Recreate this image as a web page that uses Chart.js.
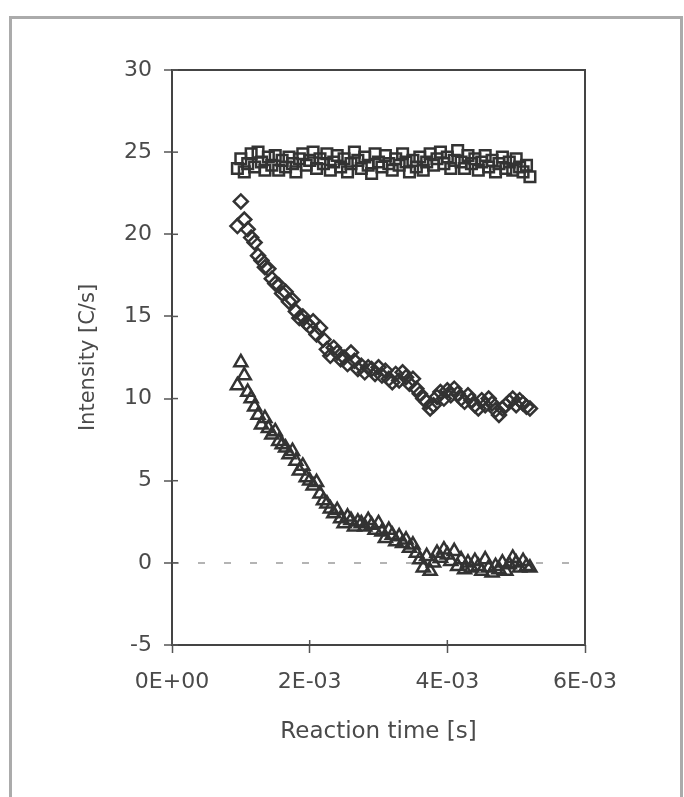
<!DOCTYPE html>
<html><head><meta charset="utf-8">
<script src="https://cdn.jsdelivr.net/npm/chart.js@4.4.0/dist/chart.umd.min.js"></script>
<style>
html,body{margin:0;padding:0;background:#fff;}
#wrap{position:relative;width:684px;height:797px;overflow:hidden;background:#fff;}
#frame{position:absolute;left:9px;top:16px;width:668px;height:820px;border:3px solid #ababab;border-bottom:none;pointer-events:none;}
canvas{position:absolute;left:0;top:0;}
</style></head><body>
<div id="wrap"><canvas id="c" width="684" height="797"></canvas><div id="frame"></div></div>
<script>
// Reaction time [s]
const timeS = [
  0.95e-3,1.00e-3,1.05e-3,1.10e-3,1.15e-3,1.20e-3,1.25e-3,1.30e-3,1.35e-3,1.40e-3,
  1.45e-3,1.50e-3,1.55e-3,1.60e-3,1.65e-3,1.70e-3,1.75e-3,1.80e-3,1.85e-3,1.90e-3,
  1.95e-3,2.00e-3,2.05e-3,2.10e-3,2.15e-3,2.20e-3,2.25e-3,2.30e-3,2.35e-3,2.40e-3,
  2.45e-3,2.50e-3,2.55e-3,2.60e-3,2.65e-3,2.70e-3,2.75e-3,2.80e-3,2.85e-3,2.90e-3,
  2.95e-3,3.00e-3,3.05e-3,3.10e-3,3.15e-3,3.20e-3,3.25e-3,3.30e-3,3.35e-3,3.40e-3,
  3.45e-3,3.50e-3,3.55e-3,3.60e-3,3.65e-3,3.70e-3,3.75e-3,3.80e-3,3.85e-3,3.90e-3,
  3.95e-3,4.00e-3,4.05e-3,4.10e-3,4.15e-3,4.20e-3,4.25e-3,4.30e-3,4.35e-3,4.40e-3,
  4.45e-3,4.50e-3,4.55e-3,4.60e-3,4.65e-3,4.70e-3,4.75e-3,4.80e-3,4.85e-3,4.90e-3,
  4.95e-3,5.00e-3,5.05e-3,5.10e-3,5.15e-3,5.20e-3
];
// Intensity [C/s] — squares (flat)
const squareSeries = [
  24.0,24.6,23.8,24.3,24.9,24.1,25.0,24.4,23.9,24.7,
  24.2,24.8,23.9,24.5,24.1,24.7,24.3,23.8,24.6,24.9,
  24.2,24.5,25.0,24.0,24.6,24.3,24.9,23.9,24.4,24.8,
  24.1,24.6,23.8,24.3,25.0,24.5,24.0,24.7,24.2,23.7,
  24.9,24.4,24.1,24.8,24.3,23.9,24.6,24.2,24.9,24.4,
  23.8,24.5,24.1,24.7,23.9,24.4,24.9,24.2,24.6,25.0,
  24.3,24.7,24.0,24.5,25.1,24.4,24.0,24.8,24.3,24.6,
  23.9,24.4,24.8,24.1,24.5,23.8,24.3,24.7,24.0,24.4,
  23.9,24.6,24.1,23.8,24.2,23.5
];
// Intensity [C/s] — diamonds (decay to ~9.5)
const diamondSeries = [
  20.5,22.0,20.9,20.3,19.8,19.5,18.7,18.4,18.0,17.9,
  17.3,17.0,16.9,16.4,16.5,15.9,16.0,15.3,14.9,15.0,
  14.6,14.4,14.7,13.9,14.3,13.6,13.0,12.6,13.1,12.8,
  12.4,12.5,12.1,12.8,12.3,11.8,12.0,11.6,11.9,11.8,
  11.5,11.9,11.4,11.7,11.2,11.0,11.5,11.1,11.6,11.3,
  10.9,11.2,10.6,10.3,10.0,9.8,9.4,9.6,10.1,10.4,
  10.0,10.5,10.2,10.6,10.3,10.0,9.8,10.2,9.9,9.6,
  9.4,9.9,9.6,10.0,9.7,9.3,9.0,9.4,9.6,9.8,
  10.0,9.6,9.9,9.7,9.5,9.4
];
// Intensity [C/s] — triangles (decay to ~0)
const triangleSeries = [
  10.8,12.2,11.4,10.4,10.0,9.5,9.0,8.4,8.8,8.2,
  7.8,8.0,7.4,7.2,7.0,6.6,6.8,6.2,5.6,5.9,
  5.2,5.0,4.7,4.9,4.2,3.8,3.6,3.3,3.0,3.2,
  2.7,2.4,2.8,2.6,2.2,2.5,2.4,2.2,2.6,2.3,
  2.0,2.4,1.9,1.5,2.0,1.7,1.3,1.6,1.2,1.4,
  0.9,1.1,0.6,0.2,-0.3,0.4,-0.5,0.0,0.6,0.3,
  0.8,0.5,0.1,0.7,-0.2,0.2,-0.4,0.0,-0.3,0.1,
  -0.2,-0.5,0.2,-0.3,-0.6,-0.2,-0.4,0.0,-0.5,-0.1,
  0.3,0.0,-0.3,0.1,-0.2,-0.3
];
const xTickLabels = ['0E+00','2E-03','4E-03','6E-03'];
const xAxisTitle = 'Reaction time [s]';
const yAxisTitle = 'Intensity [C/s]';

const toPoints = ys => timeS.map((t, i) => ({x: t, y: ys[i]}));
const markColor = '#333333';
const textColor = '#4a4a4a';
const FONT = 'DejaVu Sans';

const framePlugin = {
  id: 'frame',
  beforeDatasetsDraw(chart) {
    const {ctx, chartArea: a, scales} = chart;
    ctx.save();
    ctx.strokeStyle = '#444';
    ctx.lineWidth = 2;
    ctx.strokeRect(a.left, a.top, a.right - a.left, a.bottom - a.top);
    // inner part of cross ticks
    ctx.lineWidth = 1.5;
    ctx.strokeStyle = '#555';
    scales.y.ticks.forEach(t => {
      const py = scales.y.getPixelForValue(t.value);
      ctx.beginPath(); ctx.moveTo(a.left, py); ctx.lineTo(a.left + 6, py); ctx.stroke();
    });
    scales.x.ticks.forEach(t => {
      const px = scales.x.getPixelForValue(t.value);
      ctx.beginPath(); ctx.moveTo(px, a.bottom); ctx.lineTo(px, a.bottom - 5); ctx.stroke();
    });
    ctx.restore();
  }
};

new Chart(document.getElementById('c'), {
  type: 'scatter',
  data: {
    datasets: [
      {label: 'squares', data: toPoints(squareSeries), pointStyle: 'rect', pointRadius: 7.5,
       borderColor: markColor, backgroundColor: 'rgba(255,255,255,0)', pointBorderWidth: 2.5},
      {label: 'diamonds', data: toPoints(diamondSeries), pointStyle: 'rectRot', pointRadius: 7,
       borderColor: markColor, backgroundColor: 'rgba(255,255,255,0)', pointBorderWidth: 2.5},
      {label: 'triangles', data: toPoints(triangleSeries), pointStyle: 'triangle', pointRadius: 7.5,
       borderColor: markColor, backgroundColor: 'rgba(255,255,255,0)', pointBorderWidth: 2.5}
    ]
  },
  options: {
    responsive: false,
    animation: false,
    devicePixelRatio: 1,
    layout: {padding: {left: 72, top: 70, right: 99, bottom: 47}},
    plugins: {legend: {display: false}, tooltip: {enabled: false}},
    scales: {
      x: {
        type: 'linear', min: 0, max: 0.006,
        ticks: {stepSize: 0.002, color: textColor, font: {family: FONT, size: 22}, padding: 16,
                maxRotation: 0, callback: (v, i) => xTickLabels[i]},
        grid: {drawOnChartArea: false, drawTicks: true, tickLength: 8, tickColor: '#555', tickWidth: 1.5},
        border: {display: false},
        title: {display: true, text: xAxisTitle, color: textColor, font: {family: FONT, size: 23},
                padding: {top: 4, bottom: 4}},
        afterFit: s => { s.height = 105; }
      },
      y: {
        type: 'linear', min: -5, max: 30,
        ticks: {stepSize: 5, color: textColor, font: {family: FONT, size: 22}, padding: 12},
        grid: {drawOnChartArea: true, drawTicks: true, tickLength: 8, tickColor: '#555', tickWidth: 1.5,
               lineWidth: 2,
               color: c => (c.tick && c.tick.value === 0) ? '#b4b4b4' : 'rgba(0,0,0,0)'},
        border: {display: false, dash: [7, 19]},
        title: {display: true, text: yAxisTitle, color: textColor, font: {family: FONT, size: 21},
                padding: {top: 4, bottom: 4}},
        afterFit: s => { s.width = 100; }
      }
    }
  },
  plugins: [framePlugin]
});
</script>
</body></html>
